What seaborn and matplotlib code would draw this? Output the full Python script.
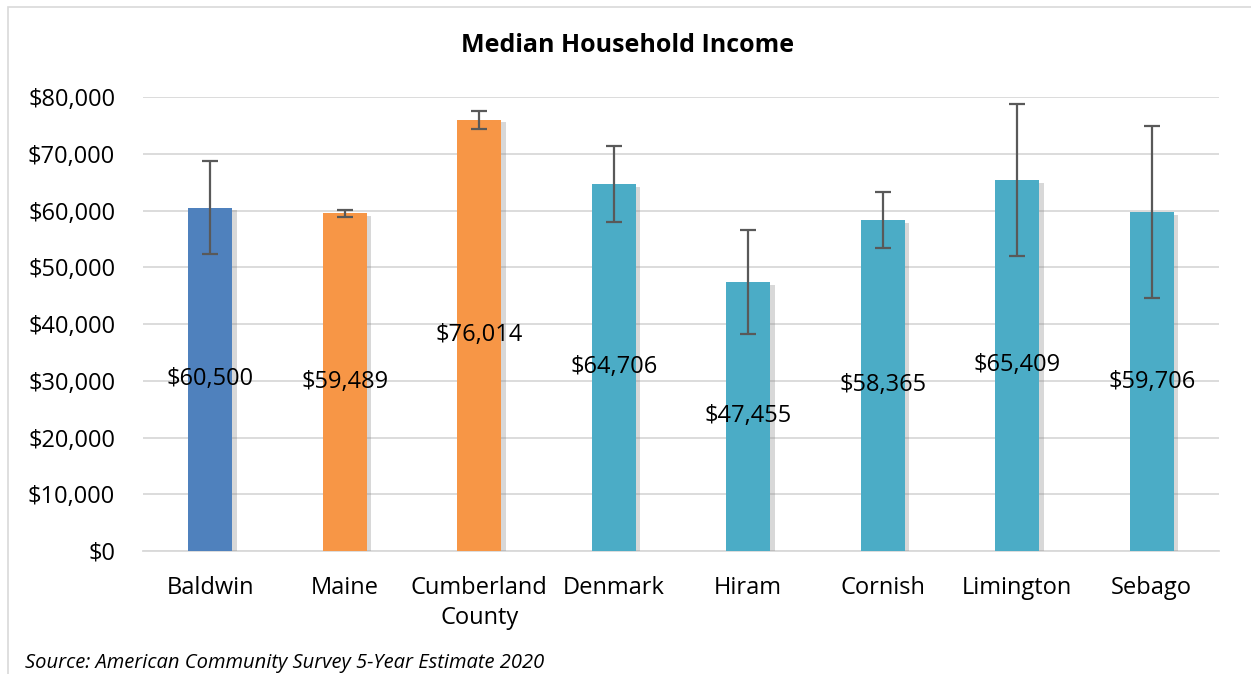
import matplotlib
matplotlib.use("Agg")
import matplotlib.pyplot as plt
import matplotlib.patheffects as pe
from matplotlib.patches import Rectangle
import seaborn as sns
import pandas as pd

categories = ["Baldwin", "Maine", "Cumberland\nCounty", "Denmark", "Hiram",
              "Cornish", "Limington", "Sebago"]
values = [60500, 59489, 76014, 64706, 47455, 58365, 65409, 59706]
margins = [8200, 650, 1600, 6700, 9200, 4900, 13400, 15200]
colors = ["#4F81BD", "#F79646", "#F79646", "#4BACC6", "#4BACC6",
          "#4BACC6", "#4BACC6", "#4BACC6"]
yticks = [0, 10000, 20000, 30000, 40000, 50000, 60000, 70000, 80000]
title = "Median Household Income"
source = "Source: American Community Survey 5-Year Estimate 2020"

sns.set_theme(style="white")
plt.rcParams["font.family"] = ["Open Sans", "DejaVu Sans"]
plt.rcParams["text.color"] = "black"
plt.rcParams["xtick.color"] = "black"
plt.rcParams["ytick.color"] = "black"

df = pd.DataFrame({"cat": categories, "val": values})

fig = plt.figure(figsize=(12.51, 6.74), dpi=100)
ax = fig.add_axes([0.1143, 0.1825, 0.8601, 0.6735])

sns.barplot(data=df, x="cat", y="val", hue="cat", palette=colors,
            width=0.33, legend=False, ax=ax, saturation=1, linewidth=0)
for p in ax.patches:
    p.set_path_effects([pe.SimplePatchShadow(offset=(3, -2), shadow_rgbFace="#808080", alpha=0.3),
                        pe.Normal()])
    p.set_zorder(3)

ax.errorbar(categories, values, yerr=margins, fmt="none", ecolor="#595959",
            elinewidth=1.6, capsize=6, capthick=1.6, zorder=5)

for i, v in enumerate(values):
    ax.text(i, v / 2, f"${v:,.0f}", ha="center", va="center", fontsize=17,
            color="black", zorder=6)

ax.set_ylim(0, 80000)
ax.set_xlim(-0.5, len(categories) - 0.5)
ax.set_yticks(yticks)
ax.set_yticklabels([f"${t:,.0f}" for t in yticks], fontsize=17)
ax.tick_params(axis="x", labelsize=17, pad=18, length=0, colors="black")
ax.tick_params(axis="y", pad=20, length=0, colors="black")
for lbl in ax.get_xticklabels():
    lbl.set_linespacing(1.35)
ax.set_xlabel("")
ax.set_ylabel("")
ax.yaxis.grid(True, color="#D9D9D9", linewidth=1.3, zorder=0)
ax.set_axisbelow(True)
for s in ["top", "right", "left"]:
    ax.spines[s].set_visible(False)
ax.spines["bottom"].set_color("#D9D9D9")
ax.spines["bottom"].set_linewidth(1.3)

fig.text(0.502, 0.933, title, ha="center", va="center", fontsize=18,
         fontweight="bold", color="black")
fig.text(0.02, 0.016, source, ha="left", va="center", fontsize=14.5,
         style="italic", color="black")
fig.patches.append(Rectangle((0.006, -0.01), 1.2, 1.0, transform=fig.transFigure,
                             fill=False, edgecolor="#D9D9D9", linewidth=1.2))

fig.savefig("out.png", dpi=100)
